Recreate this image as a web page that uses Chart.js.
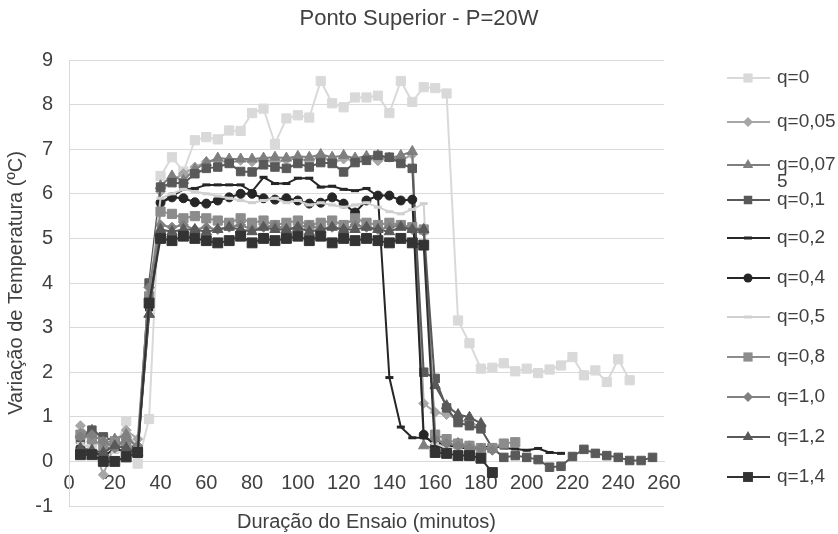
<!DOCTYPE html>
<html>
<head>
<meta charset="utf-8">
<title>Ponto Superior - P=20W</title>
<script src="https://cdn.jsdelivr.net/npm/chart.js@4.4.1/dist/chart.umd.min.js"></script>
<style>
  body { margin: 0; background: #fff; }
</style>
</head>
<body>
<canvas id="tempChart" width="838" height="534"></canvas>
<script>
// minutes of the test, one reading every 5 min
const minutes = [5, 10, 15, 20, 25, 30, 35, 40, 45, 50, 55, 60, 65, 70, 75, 80, 85, 90, 95, 100,
  105, 110, 115, 120, 125, 130, 135, 140, 145, 150, 155, 160, 165, 170, 175, 180, 185, 190, 195, 200,
  205, 210, 215, 220, 225, 230, 235, 240, 245, 250, 255];

const seriesLabels = ['q=0', 'q=0,05', 'q=0,075', 'q=0,1', 'q=0,2', 'q=0,4', 'q=0,5', 'q=0,8', 'q=1,0', 'q=1,2', 'q=1,4'];

const q0 = [0.2, 0.35, 0.5, 0.3, 0.9, -0.05, 0.95, 6.4, 6.82, 6.5, 7.2, 7.27, 7.22, 7.42, 7.41, 7.81, 7.91, 7.12, 7.69, 7.76,
  7.71, 8.53, 8.03, 7.94, 8.16, 8.16, 8.2, 7.81, 8.53, 8.06, 8.39, 8.37, 8.25, 3.16, 2.65, 2.08, 2.1, 2.2, 2.02, 2.08,
  1.98, 2.06, 2.15, 2.34, 1.93, 2.04, 1.78, 2.29, 1.82];
const q005 = [0.8, 0.45, -0.3, 0.4, 0.7, 0.5, 3.9, 6.05, 6.3, 6.45, 6.6, 6.72, 6.75, 6.7, 6.75, 6.72, 6.78, 6.7, 6.76, 6.8,
  6.72, 6.86, 6.7, 6.78, 6.76, 6.8, 6.74, 6.82, 6.75, 6.88, 1.3, 1.1, 1.05, 0.95, 0.85, 0.8];
const q0075 = [0.6, 0.7, 0.5, 0.5, 0.6, 0.3, 3.3, 6.18, 6.4, 6.3, 6.55, 6.7, 6.8, 6.78, 6.78, 6.78, 6.8, 6.82, 6.8, 6.84,
  6.82, 6.88, 6.82, 6.86, 6.8, 6.84, 6.86, 6.8, 6.86, 6.95, 0.35, 0.3, 0.35, 0.4, 0.3, 0.25];
const q01 = [0.5, 0.7, 0.55, 0.45, 0.35, 0.2, 4.0, 6.15, 6.25, 6.23, 6.45, 6.57, 6.6, 6.68, 6.5, 6.49, 6.65, 6.6, 6.57, 6.68,
  6.6, 6.7, 6.68, 6.49, 6.7, 6.75, 6.86, 6.82, 6.68, 6.57, 2.0, 1.86, 1.2, 0.87, 0.8, 0.73, 0.3, 0.09, 0.13, 0.09,
  0.04, -0.13, -0.11, 0.11, 0.27, 0.18, 0.13, 0.09, 0.02, 0.02, 0.09];
const q02 = [0.15, 0.25, 0.1, 0.3, 0.2, 0.25, 3.4, 5.8, 5.95, 6.1, 6.12, 6.2, 6.2, 6.2, 6.2, 6.05, 6.37, 6.23, 6.23, 6.35,
  6.35, 6.15, 6.17, 6.1, 6.07, 6.12, 5.95, 1.88, 0.77, 0.53, 0.53, 0.45, 0.35, 0.3, 0.3, 0.3, 0.35, 0.3, 0.28, 0.25,
  0.29, 0.2, 0.18];
const q04 = [0.3, 0.2, 0.15, 0.45, 0.35, 0.3, 3.5, 5.8, 5.92, 5.9, 5.81, 5.78, 5.85, 5.92, 6.0, 6.0, 5.9, 5.87, 5.9, 5.85,
  5.78, 5.8, 5.92, 5.78, 5.58, 5.85, 5.96, 5.96, 5.85, 5.87, 0.6, 0.35, 0.3, 0.4, 0.35, 0.3, 0.3];
const q05 = [0.4, 0.3, 0.5, 0.2, 0.5, 0.1, 3.8, 5.9, 6.0, 6.1, 6.05, 6.0, 5.95, 5.9, 5.85, 5.8, 5.85, 5.9, 5.8, 5.85,
  5.75, 5.8, 5.75, 5.7, 5.75, 5.8, 5.7, 5.6, 5.55, 5.65, 5.78, 0.4, 0.3, 0.3];
const q08 = [0.6, 0.5, 0.35, 0.45, 0.4, 0.2, 3.7, 5.6, 5.55, 5.45, 5.5, 5.45, 5.4, 5.35, 5.45, 5.35, 5.4, 5.3, 5.35, 5.4,
  5.3, 5.35, 5.4, 5.3, 5.45, 5.35, 5.3, 5.35, 5.3, 5.25, 5.2, 0.6, 0.5, 0.4, 0.35, 0.3, 0.3, 0.4, 0.43];
const q10 = [0.55, 0.6, 0.45, 0.3, 0.5, 0.35, 3.9, 5.3, 5.25, 5.3, 5.2, 5.25, 5.2, 5.25, 5.3, 5.2, 5.25, 5.3, 5.2, 5.25,
  5.3, 5.2, 5.25, 5.2, 5.3, 5.25, 5.2, 5.25, 5.3, 5.2, 5.15, 0.5, 0.4, 0.35, 0.3, 0.3, 0.25];
const q12 = [0.3, 0.25, 0.2, 0.35, 0.3, 0.2, 3.3, 5.2, 5.15, 5.2, 5.2, 5.15, 5.2, 5.25, 5.2, 5.15, 5.25, 5.2, 5.2, 5.25,
  5.15, 5.2, 5.25, 5.2, 5.2, 5.25, 5.2, 5.15, 5.25, 5.2, 5.2, 1.7, 1.25, 1.05, 0.99, 0.85];
const q14 = [0.15, 0.15, 0.0, 0.0, 0.1, 0.2, 3.55, 5.0, 4.95, 5.05, 5.0, 4.95, 4.9, 4.95, 5.05, 4.9, 5.0, 4.95, 5.0, 5.05,
  4.95, 5.05, 4.9, 5.0, 4.95, 5.0, 4.95, 4.9, 5.0, 4.9, 4.85, 0.2, 0.18, 0.13, 0.13, 0.07, -0.25];

const seriesValues = [q0, q005, q0075, q01, q02, q04, q05, q08, q10, q12, q14];

const xTicksMin = 0, xTicksMax = 260, xStep = 20;
const yTicksMin = -1, yTicksMax = 9, yStep = 1;

// look of each series (Excel-like grey shades)
const styles = [
  { color: '#d9d9d9', point: 'rect', r: 6.5 },
  { color: '#a6a6a6', point: 'rectRot', r: 5 },
  { color: '#7f7f7f', point: 'triangle', r: 6 },
  { color: '#595959', point: 'rect', r: 6 },
  { color: '#262626', point: 'line', r: 4, bw: 3 },
  { color: '#262626', point: 'circle', r: 4.5 },
  { color: '#d0d0d0', point: 'line', r: 4, bw: 3 },
  { color: '#8c8c8c', point: 'rect', r: 6.5 },
  { color: '#808080', point: 'rectRot', r: 5 },
  { color: '#595959', point: 'triangle', r: 6 },
  { color: '#333333', point: 'rect', r: 7 }
];

const FONT = "'Liberation Sans', Arial, sans-serif";
const TEXT = '#404040';

const datasets = seriesLabels.map((label, i) => {
  const s = styles[i];
  return {
    label: label,
    data: seriesValues[i].map((v, k) => ({ x: minutes[k], y: v })),
    borderColor: s.color,
    backgroundColor: s.color,
    borderWidth: 2,
    pointStyle: s.point,
    pointRadius: s.r,
    pointBackgroundColor: s.color,
    pointBorderColor: s.color,
    pointBorderWidth: s.bw || 1,
    tension: 0,
    order: seriesLabels.length - i
  };
});

function marker(ctx, s, x, y) {
  ctx.save();
  ctx.fillStyle = s.color;
  ctx.strokeStyle = s.color;
  ctx.beginPath();
  const r = s.r;
  if (s.point === 'rect') {
    const h = r * Math.SQRT1_2;
    ctx.rect(x - h, y - h, 2 * h, 2 * h);
    ctx.fill();
  } else if (s.point === 'rectRot') {
    ctx.moveTo(x - r, y); ctx.lineTo(x, y - r); ctx.lineTo(x + r, y); ctx.lineTo(x, y + r);
    ctx.closePath(); ctx.fill();
  } else if (s.point === 'triangle') {
    let a = 0;
    ctx.moveTo(x + Math.sin(a) * r, y - Math.cos(a) * r);
    a += 2 * Math.PI / 3;
    ctx.lineTo(x + Math.sin(a) * r, y - Math.cos(a) * r);
    a += 2 * Math.PI / 3;
    ctx.lineTo(x + Math.sin(a) * r, y - Math.cos(a) * r);
    ctx.closePath(); ctx.fill();
  } else if (s.point === 'circle') {
    ctx.arc(x, y, r, 0, Math.PI * 2); ctx.fill();
  } else {
    ctx.lineWidth = s.bw || 3;
    ctx.moveTo(x - r, y); ctx.lineTo(x + r, y); ctx.stroke();
  }
  ctx.restore();
}

// title, legend on the right and x axis title, Excel style
const legendY = [78, 122, 165, 200, 238, 278, 317, 357, 397, 437, 477];
const extras = {
  id: 'extras',
  afterDraw(chart) {
    const ctx = chart.ctx;
    ctx.save();
    ctx.fillStyle = TEXT;
    ctx.textBaseline = 'middle';
    ctx.textAlign = 'center';
    ctx.font = '22px ' + FONT;
    ctx.fillText('Ponto Superior - P=20W', chart.width / 2, 19);

    ctx.font = '19px ' + FONT;
    ctx.textAlign = 'left';
    seriesLabels.forEach((label, i) => {
      const y = legendY[i];
      const s = styles[i];
      ctx.strokeStyle = s.color;
      ctx.lineWidth = 2;
      ctx.beginPath();
      ctx.moveTo(727, y); ctx.lineTo(770, y); ctx.stroke();
      marker(ctx, s, 748, y);
      ctx.fillStyle = TEXT;
      if (label.length > 6) {
        ctx.fillText(label.slice(0, 6), 777, y);
        ctx.fillText(label.slice(6), 777, y + 17);
      } else {
        ctx.fillText(label, 777, y);
      }
    });
    const area = chart.chartArea;
    ctx.font = '20px ' + FONT;
    ctx.textAlign = 'center';
    ctx.fillText('Duração do Ensaio (minutos)', (area.left + area.right) / 2, 522);
    ctx.restore();
  }
};

new Chart(document.getElementById('tempChart'), {
  type: 'line',
  data: { datasets: datasets },
  plugins: [extras],
  options: {
    responsive: false,
    animation: false,
    layout: { padding: { left: 0, right: 174, top: 60, bottom: 28 } },
    plugins: {
      legend: { display: false },
      tooltip: { enabled: false },
      title: { display: false }
    },
    scales: {
      x: {
        type: 'linear',
        position: { y: 0 },
        min: xTicksMin,
        max: xTicksMax,
        grid: { display: false, drawTicks: false },
        border: { display: true, color: '#d9d9d9', width: 1 },
        ticks: { stepSize: xStep, padding: 10, color: TEXT, font: { family: FONT, size: 20 }, maxRotation: 0 }
      },
      y: {
        min: yTicksMin,
        max: yTicksMax,
        grid: { color: '#d9d9d9', drawTicks: false },
        border: { display: true, color: '#d9d9d9', width: 1 },
        ticks: { stepSize: yStep, padding: 16, color: TEXT, font: { family: FONT, size: 20 } },
        title: {
          display: true,
          text: 'Variação de Temperatura (ºC)',
          color: TEXT,
          font: { family: FONT, size: 20 }
        },
        afterFit(scale) { scale.width = 69; }
      }
    }
  }
});
</script>
</body>
</html>
